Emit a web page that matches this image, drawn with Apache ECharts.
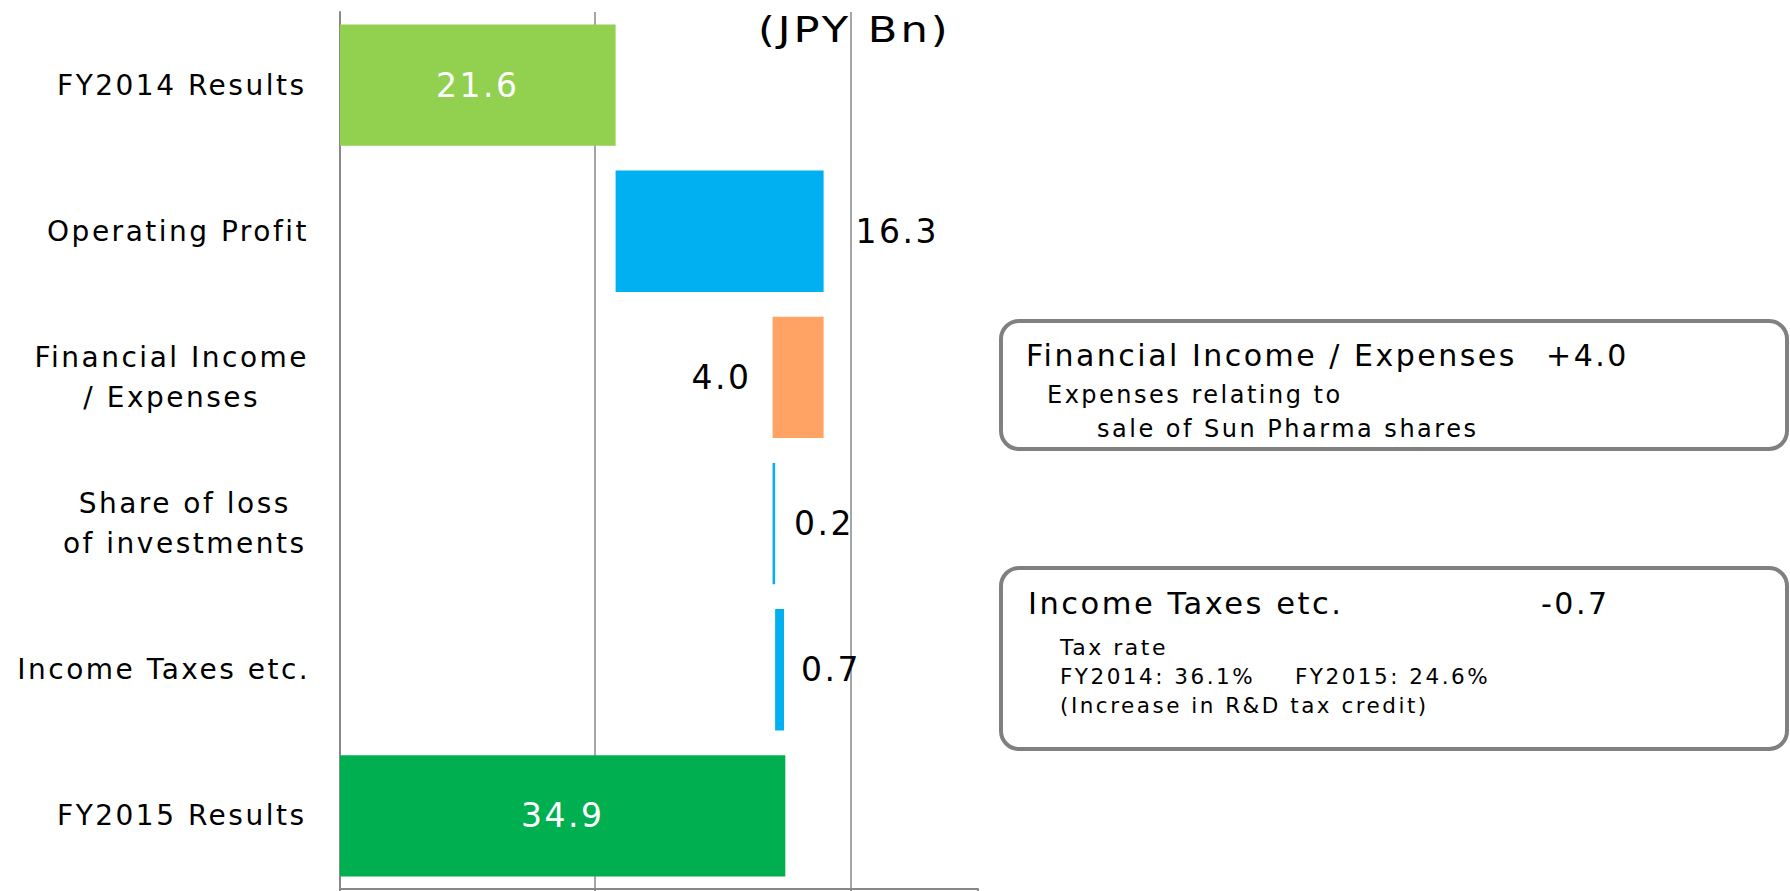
<!DOCTYPE html>
<html>
<head>
<meta charset="utf-8">
<script src="https://cdn.jsdelivr.net/npm/echarts@6.0.0/dist/echarts.min.js"></script>
<style>
html, body { margin: 0; padding: 0; background: #fff; }
#chart { width: 1790px; height: 891px; letter-spacing: 2.5px; }
</style>
</head>
<body>
<div id="chart"></div>
<script>
// data (JPY Bn)
var categories = ['FY2014 Results', 'Operating Profit', 'Financial Income\n/ Expenses',
                  'Share of loss\nof investments', 'Income Taxes etc.', 'FY2015 Results'];
var startValue = 21.6;
var changes = [16.3, -4.0, 0.2, 0.7];
var endValue = 34.9;
var axisMin = 0;
var axisMax = 50;
var axisStep = 20;

var barColors = ['#92D050', '#00B0F0', '#FFA365', '#00B0F0', '#00B0F0', '#00B050'];
var labelPos = ['inside', 'right', 'left', 'right', 'right', 'inside'];
var labelGap = [0, 32, 21, 19, 17, 0];
var font = 'DejaVu Sans, Noto Sans CJK JP';

// waterfall: invisible base + visible step
var bases = [0];
var heights = [startValue];
var running = startValue;
changes.forEach(function (c) {
    bases.push(+(c > 0 ? running : running + c).toFixed(1));
    heights.push(Math.abs(c));
    running += c;
});
bases.push(0);
heights.push(endValue);

var chart = echarts.init(document.getElementById('chart'), null, {renderer: 'svg'});

function txt(x, y, s, size) {
    return {
        type: 'text', x: x, y: y, z: 10,
        style: {text: s, fontSize: size, fontFamily: font, fill: '#000', verticalAlign: 'middle'}
    };
}

var unitLabel = txt(758, 29, '(JPY Bn)', 36);
unitLabel.scaleX = 1.2;

var option = {
    animation: false,
    textStyle: {fontFamily: font},
    grid: {left: 340, right: 812, top: 12, bottom: 2, containLabel: false, outerBoundsMode: 'none'},
    xAxis: {
        type: 'value',
        min: axisMin,
        max: axisMax,
        interval: axisStep,
        axisLine: {show: true, lineStyle: {color: '#888', width: 2}},
        axisTick: {show: true, length: 4, lineStyle: {color: '#888', width: 2}},
        axisLabel: {show: false},
        splitLine: {show: true, showMaxLine: false, lineStyle: {color: '#888', width: 1.5}}
    },
    yAxis: {
        type: 'category',
        inverse: true,
        data: categories,
        axisLine: {lineStyle: {color: '#888', width: 2}},
        axisTick: {length: 10, lineStyle: {color: '#888', width: 2}},
        axisLabel: {
            margin: 51,
            formatter: function (v) {
                return v.split('\n').map(function (l) { return '{c|' + l + '}'; }).join('\n');
            },
            rich: {c: {align: 'center', fontSize: 28, lineHeight: 40, fontFamily: font, color: '#000'}}
        }
    },
    series: [
        {
            type: 'bar',
            stack: 'wf',
            barWidth: '83%',
            silent: true,
            itemStyle: {color: 'rgba(0,0,0,0)'},
            emphasis: {disabled: true},
            data: bases
        },
        {
            type: 'bar',
            stack: 'wf',
            barWidth: '83%',
            data: heights.map(function (h, i) {
                return {
                    value: h,
                    itemStyle: {color: barColors[i]},
                    label: {
                        show: true,
                        position: labelPos[i],
                        distance: labelGap[i],
                        fontSize: 33,
                        fontFamily: font,
                        color: labelPos[i] === 'inside' ? '#fff' : '#000',
                        formatter: function () { return h.toFixed(1); }
                    }
                };
            })
        }
    ],
    graphic: [
        unitLabel,
        {
            type: 'rect', z: 10,
            shape: {x: 1001, y: 321, width: 786, height: 128, r: 18},
            style: {fill: 'rgba(0,0,0,0)', stroke: '#808080', lineWidth: 4}
        },
        txt(1026, 355, 'Financial Income / Expenses', 30),
        txt(1546, 355, '+4.0', 30),
        txt(1047, 395, 'Expenses relating to', 24),
        txt(1097, 429, 'sale of Sun Pharma shares', 24),
        {
            type: 'rect', z: 10,
            shape: {x: 1001, y: 568, width: 786, height: 181, r: 18},
            style: {fill: 'rgba(0,0,0,0)', stroke: '#808080', lineWidth: 4}
        },
        txt(1028, 603, 'Income Taxes etc.', 30.5),
        txt(1541, 603, '-0.7', 30),
        txt(1060, 647, 'Tax rate', 22),
        txt(1060, 676, 'FY2014: 36.1%', 21.5),
        txt(1295, 676, 'FY2015: 24.6%', 21.5),
        txt(1060, 705, '(Increase in R&D tax credit)', 21.5)
    ]
};

chart.setOption(option);
window.addEventListener('resize', function () {
    chart.resize();
});
</script>
</body>
</html>
